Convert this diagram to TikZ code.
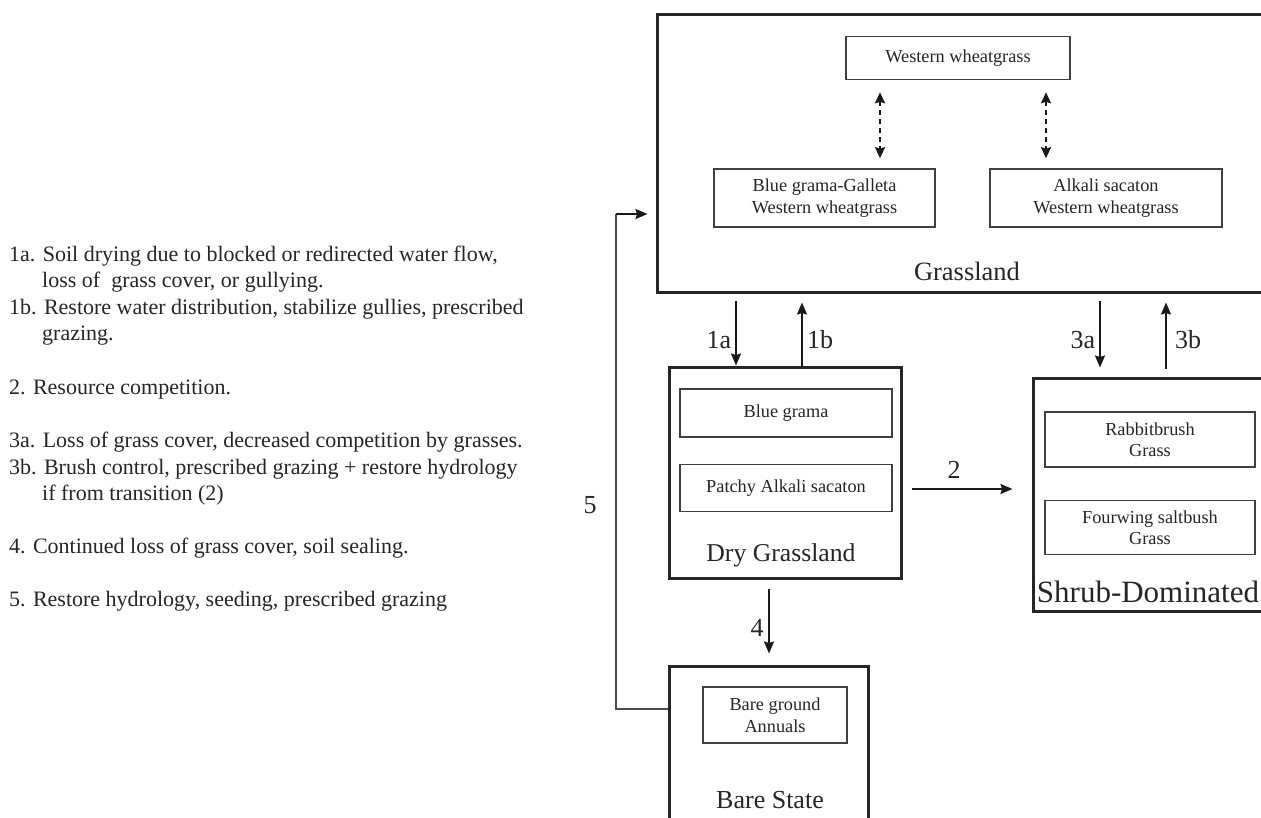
\documentclass[tikz,border=0pt]{standalone}
\usepackage{fontspec}
\setmainfont{Liberation Serif}
\usetikzlibrary{arrows.meta}
\begin{document}
\begin{tikzpicture}[x=1pt,y=-1pt,
  outerbox/.style={draw=black!85, line width=3pt, rectangle, inner sep=0pt},
  innerbox/.style={draw=black!75, line width=1.6pt, rectangle, inner sep=0pt, align=center,
     font=\fontsize{18.3}{21.5}\selectfont, text=black!85},
  statelbl/.style={inner sep=0pt, text=black!85},
  trlbl/.style={font=\fontsize{26}{28}\selectfont, inner sep=0pt, text=black!85},
  legend/.style={anchor=west, inner sep=0pt, text height=0.7em, text depth=0.25em,
     font=\fontsize{22}{26}\selectfont, text=black!85},
  arr/.style={draw=black!90, line width=2pt, -{Stealth[length=12pt,width=10pt,inset=1.5pt]}},
  dasharr/.style={draw=black!90, line width=2pt, dash pattern=on 5pt off 4pt,
     {Stealth[length=11pt,width=10pt,inset=1.5pt]}-{Stealth[length=11pt,width=10pt,inset=1.5pt]}},
  thinline/.style={draw=black!70, line width=1.3pt}]
\useasboundingbox (0,0) rectangle (1261,817);
\clip (0,0) rectangle (1261,817);
\fill[white] (0,0) rectangle (1261,817);

% legend text
\node[legend] (l1) at (9,259) {1a. Soil drying due to blocked or redirected water flow,};
\node[legend] (l2) at (42,285.5) {loss of\ \ grass cover, or gullying.};
\node[legend] (l3) at (9,312) {1b. Restore water distribution, stabilize gullies, prescribed};
\node[legend] (l4) at (42,338.5) {grazing.};
\node[legend] (l5) at (9,392) {2. Resource competition.};
\node[legend] (l6) at (9,445.5) {3a. Loss of grass cover, decreased competition by grasses.};
\node[legend] (l7) at (9,472) {3b. Brush control, prescribed grazing + restore hydrology};
\node[legend] (l8) at (42,498.5) {if from transition (2)};
\node[legend] (l9) at (9,551) {4. Continued loss of grass cover, soil sealing.};
\node[legend] (l10) at (9,604) {5. Restore hydrology, seeding, prescribed grazing};

% Grassland
\node[outerbox, minimum width=614pt, minimum height=278pt] (gr) at (964,153) {};
\node[innerbox, minimum width=224pt, minimum height=43pt] (ww) at (958,58) {Western wheatgrass};
\node[innerbox, minimum width=221pt, minimum height=58pt] (bg) at (824.5,198) {Blue grama-Galleta\\Western wheatgrass};
\node[innerbox, minimum width=232pt, minimum height=58pt] (as) at (1106,198) {Alkali sacaton\\Western wheatgrass};
\node[statelbl, font=\fontsize{26.5}{30}\selectfont] (grl) at (967,271) {Grassland};
\coordinate (d1) at (880,0);
\coordinate (d2) at (1046,0);
\draw[dasharr, shorten <=12pt, shorten >=10pt] (ww.south -| d1) -- (bg.north -| d1);
\draw[dasharr, shorten <=12pt, shorten >=10pt] (ww.south -| d2) -- (as.north -| d2);

% Dry grassland
\node[outerbox, minimum width=232pt, minimum height=211pt] (dry) at (785.5,472.5) {};
\node[innerbox, minimum width=212pt, minimum height=48pt] (bgr) at (786,413) {Blue grama};
\node[innerbox, minimum width=212pt, minimum height=47pt] (pas) at (786,488) {Patchy Alkali sacaton};
\node[statelbl, font=\fontsize{25.7}{30}\selectfont] (dryl) at (781,555) {Dry Grassland};

% Shrub-dominated
\node[outerbox, minimum width=240pt, minimum height=233pt] (sh) at (1153,494.5) {};
\node[innerbox, minimum width=210pt, minimum height=55pt] (rb) at (1150,439.5) {Rabbitbrush\\Grass};
\node[innerbox, minimum width=210pt, minimum height=54pt] (fs) at (1150,527.5) {Fourwing saltbush\\Grass};
\node[statelbl, font=\fontsize{31}{35}\selectfont] (shl) at (1148,592) {Shrub-Dominated};

% Bare state
\node[outerbox, minimum width=199pt, minimum height=170pt] (bare) at (768.5,751) {};
\node[innerbox, minimum width=144pt, minimum height=56pt] (bgn) at (775,715) {Bare ground\\Annuals};
\node[statelbl, font=\fontsize{26}{30}\selectfont] (barel) at (770,800) {Bare State};

% transitions
\coordinate (c1a) at (736,0);
\coordinate (c1b) at (802,0);
\coordinate (c3a) at (1100,0);
\coordinate (c3b) at (1166,0);
\coordinate (c4) at (769,0);
\draw[arr, shorten <=7pt] (gr.south -| c1a) -- (dry.north -| c1a);
\draw[arr, shorten >=9pt] (dry.north -| c1b) -- (gr.south -| c1b);
\draw[arr, shorten <=7pt, shorten >=9pt] (gr.south -| c3a) -- (sh.north -| c3a);
\draw[arr, shorten <=8pt, shorten >=9pt] (sh.north -| c3b) -- (gr.south -| c3b);
\draw[arr, shorten <=9pt, shorten >=11pt] (dry.south -| c4) -- (bare.north -| c4);
\coordinate (y2) at (0,489);
\draw[arr, shorten <=9pt, shorten >=19pt] (dry.east |- y2) -- (sh.west |- y2);

\node[trlbl] (t1a) at (719,340) {1a};
\node[trlbl] (t1b) at (820,340) {1b};
\node[trlbl] (t3a) at (1083,340) {3a};
\node[trlbl] (t3b) at (1188,340) {3b};
\node[trlbl] (t2) at (954,470) {2};
\node[trlbl] (t4) at (757,628) {4};
\node[trlbl] (t5) at (590,505) {5};

% transition 5
\coordinate (c5) at (616,0);
\coordinate (y5a) at (0,709);
\coordinate (y5b) at (0,214);
\draw[thinline] (bare.west |- y5a) -- (c5 |- y5a) -- (c5 |- y5b);
\draw[arr, shorten >=8pt] (c5 |- y5b) -- (gr.west |- y5b);
\end{tikzpicture}
\end{document}
